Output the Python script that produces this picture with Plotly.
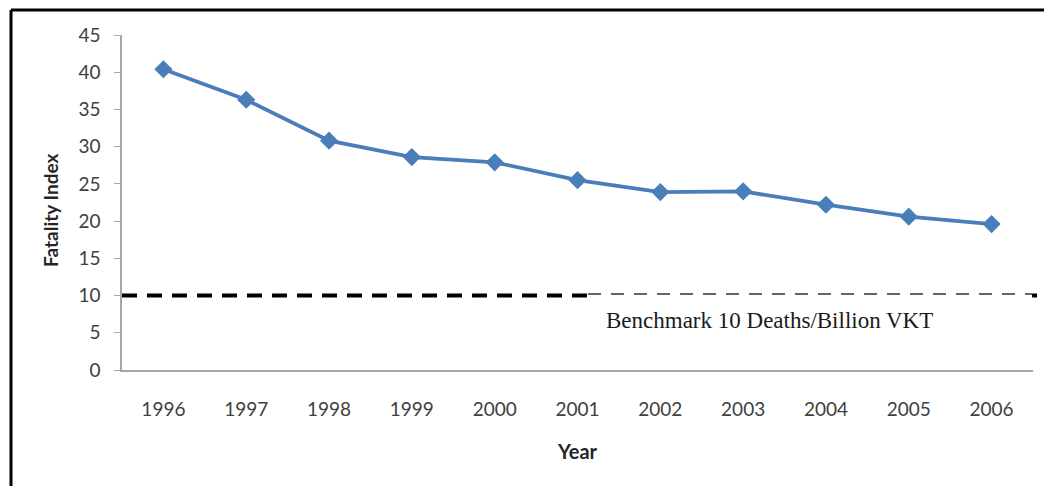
import plotly.graph_objects as go

# Fatality index by year
years = [1996, 1997, 1998, 1999, 2000, 2001, 2002, 2003, 2004, 2005, 2006]
fatality_index = [40.4, 36.3, 30.8, 28.6, 27.9, 25.5, 23.9, 24.0, 22.2, 20.6, 19.6]
benchmark = 10
benchmark_label = "Benchmark 10 Deaths/Billion VKT"
y_ticks = [0, 5, 10, 15, 20, 25, 30, 35, 40, 45]

W, H = 1044, 486
L, R, T, B = 122, 11, 35, 116
pw, ph = W - L - R, H - T - B


def px(xp):
    return (xp - L) / pw


def py(yp):
    return (H - B - yp) / ph


fig = go.Figure()
fig.add_trace(go.Scatter(
    x=years, y=fatality_index, mode="lines+markers",
    line=dict(color="#4A7EBB", width=3.8),
    marker=dict(symbol="diamond", size=14, color="#4A7EBB"),
    showlegend=False,
))

shapes = [
    # outer frame (top and left edges)
    dict(type="line", xref="paper", yref="paper", x0=px(11), x1=px(W + 5),
         y0=py(10), y1=py(10), line=dict(color="black", width=3)),
    dict(type="line", xref="paper", yref="paper", x0=px(11), x1=px(11),
         y0=py(10), y1=py(H + 5), line=dict(color="black", width=3)),
    # benchmark line
    dict(type="line", xref="paper", yref="y", x0=0, x1=px(1042),
         y0=benchmark, y1=benchmark,
         line=dict(color="black", width=4, dash="15px,10px")),
    # label box
    dict(type="rect", xref="paper", yref="paper", x0=px(588), x1=px(1032),
         y0=py(350), y1=py(291), fillcolor="white", line=dict(width=0), layer="above"),
    dict(type="line", xref="paper", yref="paper", x0=px(588), x1=px(1032),
         y0=py(294), y1=py(294),
         line=dict(color="#333333", width=1.5, dash="13px,10px"), layer="above"),
]

fig.update_layout(
    width=W, height=H,
    margin=dict(l=L, r=R, t=T, b=B),
    paper_bgcolor="white", plot_bgcolor="white",
    font=dict(family="Lato, Open Sans, sans-serif", color="#404040", size=19),
    shapes=shapes,
    annotations=[
        dict(text=benchmark_label, xref="paper", yref="paper",
             x=px(769), y=py(320), xanchor="center", yanchor="middle", showarrow=False,
             font=dict(family="Liberation Serif, Times New Roman, serif", size=23, color="#1a1a1a")),
        dict(text="<b>Fatality Index</b>", xref="paper", yref="paper",
             x=px(50), y=py(211), xanchor="center", yanchor="middle", textangle=-90,
             showarrow=False, font=dict(size=19, color="#262626")),
    ],
    xaxis=dict(
        range=[1995.5, 2006.5], tickvals=years, ticktext=[str(y) for y in years],
        showgrid=False, zeroline=False, showline=True, linecolor="#A6A6A6", linewidth=1.5,
        ticks="", ticklabelstandoff=21,
        title=dict(text="<b>Year</b>", standoff=26, font=dict(size=20, color="#262626")),
    ),
    yaxis=dict(
        range=[0, 45], tickvals=y_ticks,
        showgrid=False, zeroline=False, showline=True, linecolor="#A6A6A6", linewidth=1.5,
        ticks="outside", ticklen=6, tickcolor="#A6A6A6", ticklabelstandoff=10,
    ),
)

fig.write_html("out.html")
